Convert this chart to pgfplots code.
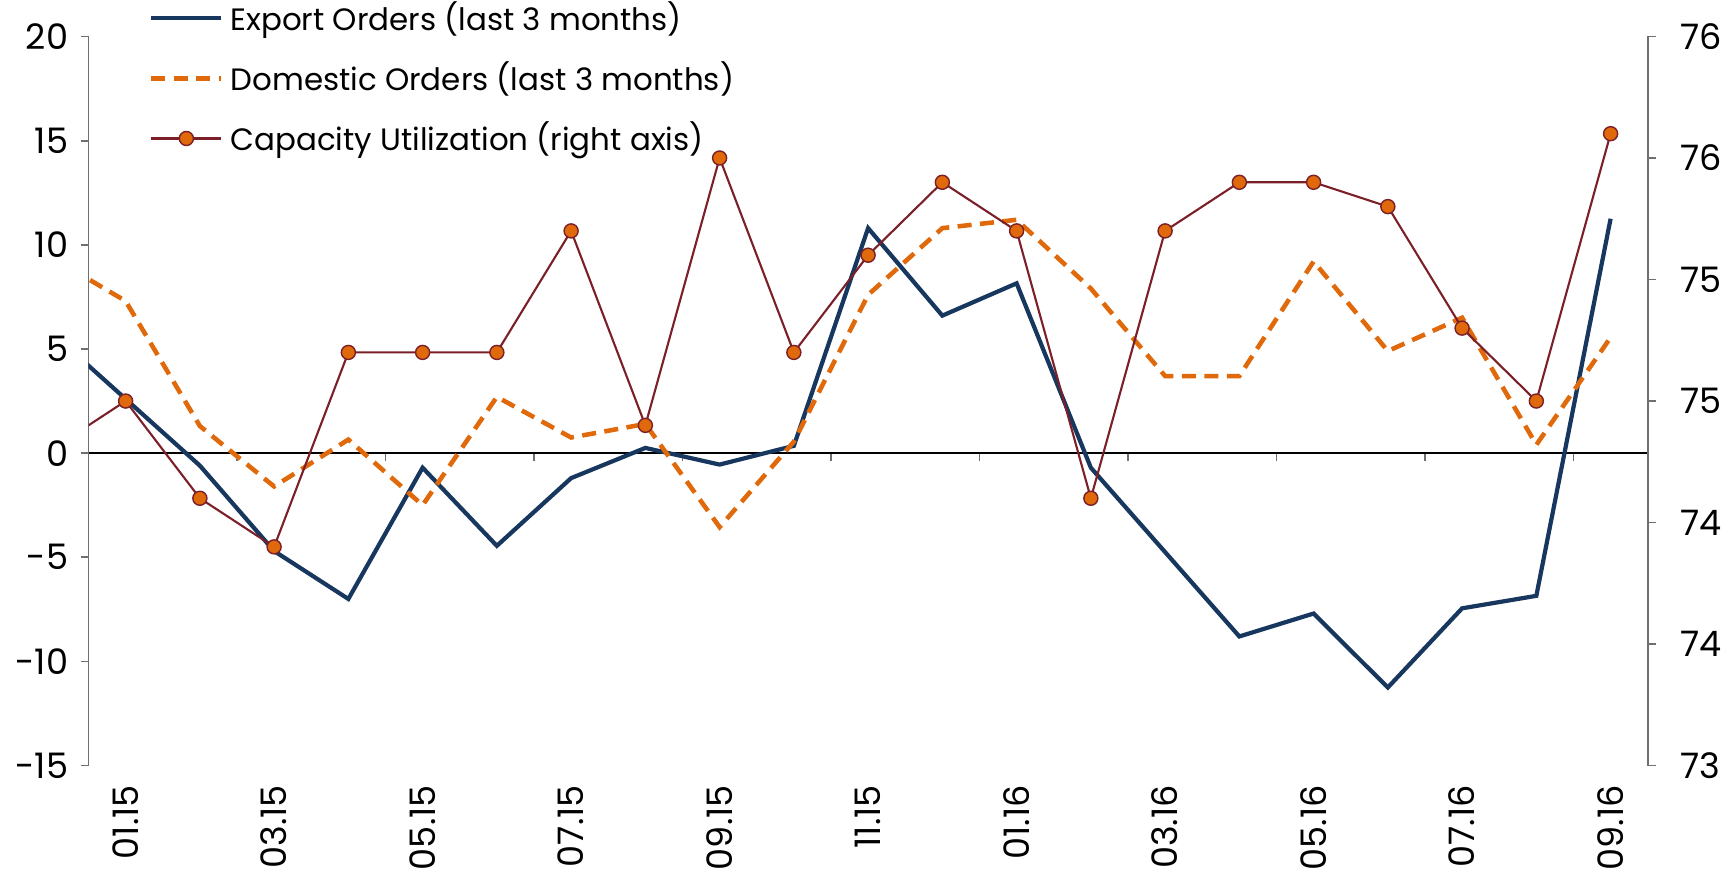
\documentclass[border=0pt]{standalone}
\usepackage{fontspec}
\setmainfont{Poppins}
\usepackage{pgfplots}
\usepackage{pgfplotstable}
\pgfplotsset{compat=1.18}

\definecolor{navy}{HTML}{17375E}
\definecolor{dorange}{HTML}{E06A0B}
\definecolor{capred}{HTML}{7B1F28}
\definecolor{axgray}{HTML}{6F6F6F}

% x = month index, 0 = 01.15 ... 20 = 09.16 (-1 = 12.14, clipped at the left edge)
\pgfplotstableread{
x   exp     dom    cap
-1   5.8    9.4    74.3
0    2.6    7.3    74.5
1   -0.6    1.3    74.1
2   -4.7   -1.6    73.9
3   -7.0    0.65   74.7
4   -0.7   -2.5    74.7
5   -4.45   2.7    74.7
6   -1.2    0.75   75.2
7    0.25   1.4    74.4
8   -0.55  -3.55   75.5
9    0.35   0.55   74.7
10  10.8    7.6    75.1
11   6.6   10.8    75.4
12   8.15  11.2    75.2
13  -0.7    7.9    74.1
14  -4.75   3.7    75.2
15  -8.8    3.7    75.4
16  -7.7    9.2    75.4
17 -11.25   4.9    75.3
18  -7.45   6.5    74.8
19  -6.85   0.4    74.5
20  11.25   5.55   75.6
}\data

\pgfplotsset{
  base/.style={
    scale only axis, width=156.1mm, height=73mm,
    xmin=-0.5, xmax=20.5,
    tick align=outside, major tick length=0.8mm,
    tick label style={font=\fontsize{10}{12}\selectfont},
    /pgf/number format/assume math mode=true,
  },
}

\begin{document}
\begin{tikzpicture}
% left axis: order balances
\begin{axis}[base, name=ax,
  ymin=-15, ymax=20,
  axis y line*=left, axis x line*=middle,
  y axis line style={draw=axgray, line width=0.5pt},
  x axis line style={draw=black, line width=0.5pt, -},
  ytick={-15,-10,...,20},
  ytick style={draw=axgray, line width=0.5pt},
  xtick={-0.5,1.5,...,19.5}, xticklabels={},
  xtick style={draw=axgray, line width=0.5pt},
]
\addplot[navy, line width=1.2pt] table[x=x,y=exp]{\data};
\addplot[dorange, line width=1.3pt, dash pattern=on 4pt off 2.4pt] table[x=x,y=dom]{\data};
\end{axis}
% right axis: capacity utilization
\begin{axis}[base,
  ymin=73, ymax=76,
  axis y line*=right, axis x line*=bottom,
  y axis line style={draw=axgray, line width=0.5pt},
  x axis line style={draw=none},
  ytick={73,73.5,...,76},
  yticklabels={73,74,74,75,75,76,76},
  ytick style={draw=axgray, line width=0.5pt},
  yticklabel style={xshift=1.2mm},
  xtick={0,2,...,20},
  xticklabels={01.15,03.15,05.15,07.15,09.15,11.15,01.16,03.16,05.16,07.16,09.16},
  xticklabel style={rotate=90, anchor=east, inner sep=0pt},
  xticklabel shift=1.1mm,
  xtick style={draw=none},
  clip marker paths=true,
  legend cell align=left,
  legend style={draw=none, fill=none, at={(0,1)}, anchor=north west,
    xshift=6mm, yshift=4.3mm, inner sep=0pt, row sep=3.4pt,
    font=\fontsize{8.8}{10}\selectfont},
  legend image code/.code={\draw[mark repeat=2,mark phase=2,#1]
    plot coordinates {(0cm,0cm) (0.35cm,0cm) (0.7cm,0cm)};},
]
\addlegendimage{navy, line width=1.2pt}
\addlegendentry{Export Orders (last 3 months)}
\addlegendimage{dorange, line width=1.3pt, dash pattern=on 4pt off 2.4pt}
\addlegendentry{Domestic Orders (last 3 months)}
\addplot[capred, line width=0.6pt, mark=*, mark size=2pt,
  mark options={fill=dorange, draw=capred, line width=0.4pt}]
  table[x=x,y=cap]{\data};
\addlegendentry{Capacity Utilization (right axis)}
\end{axis}
\pgfresetboundingbox
\path ([xshift=-8.86mm, yshift=3.65mm]ax.north west)
  rectangle ([xshift=8.64mm, yshift=-10.55mm]ax.south east);
\end{tikzpicture}
\end{document}
